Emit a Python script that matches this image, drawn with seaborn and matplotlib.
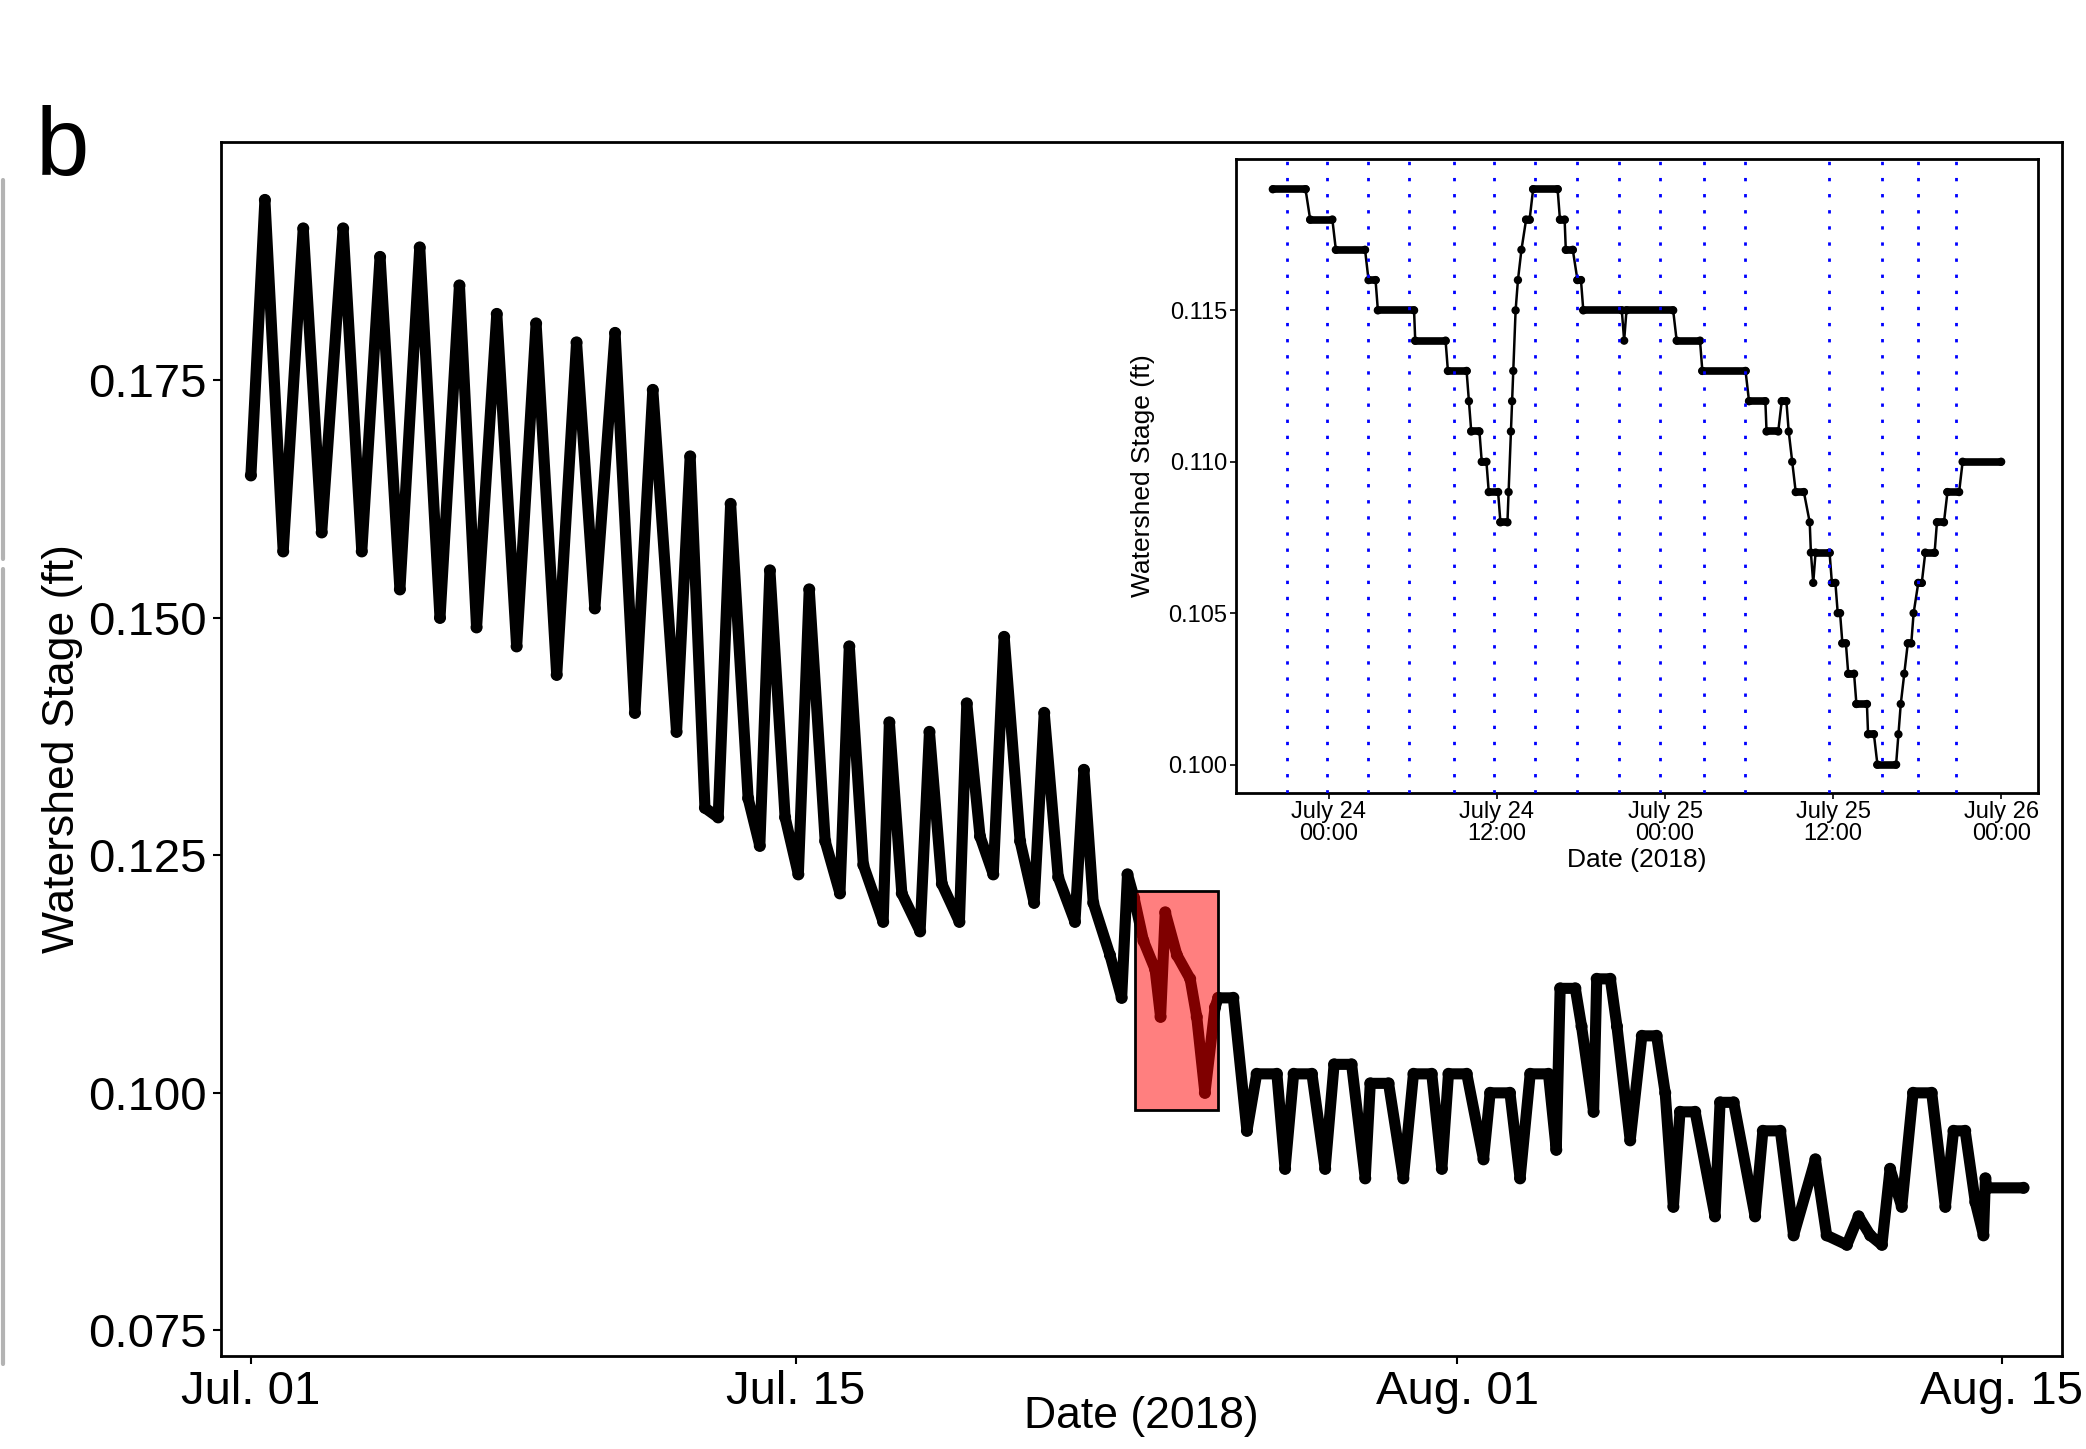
import numpy as np
import pandas as pd
import matplotlib
matplotlib.use("Agg")
import matplotlib.pyplot as plt
import matplotlib.dates as mdates
from matplotlib.patches import Rectangle
from matplotlib.lines import Line2D
import seaborn as sns

# main series: days since 2018-07-01 00:00 and stage (ft)
main_day = [0.00, 0.36, 0.83, 1.345, 1.82, 2.37, 2.85, 3.32, 3.83, 4.34, 4.86, 5.36, 5.80, 6.32,
            6.83, 7.33, 7.86, 8.37, 8.84, 9.36, 9.87, 10.33, 10.94, 11.29, 11.67, 12.01, 12.33,
            12.78, 13.08, 13.34, 13.73, 14.07, 14.35, 14.76, 15.14, 15.38, 15.74, 16.25, 16.41,
            16.73, 17.20, 17.44, 17.76, 18.21, 18.40, 18.74, 19.08, 19.36, 19.77, 20.13, 20.39,
            20.75, 21.18, 21.41, 21.65, 22.08, 22.38, 22.53, 22.70, 22.94,
            23.24, 23.38, 23.50, 23.80, 24.14, 24.31, 24.52, 24.78, 24.86, 25.25, 25.60, 25.85,
            26.37, 26.58, 26.80, 27.27, 27.61, 27.84, 28.29, 28.64, 28.77, 29.24, 29.62, 29.88,
            30.35, 30.61, 30.78, 31.25, 31.68, 31.85, 32.36, 32.62, 32.88, 33.35, 33.55, 33.65,
            34.04, 34.20, 34.51, 34.59, 34.94, 35.11, 35.45, 35.75, 36.13, 36.35, 36.56, 36.73,
            37.12, 37.63, 37.76, 38.11, 38.66, 38.86, 39.31, 39.65, 40.21, 40.50, 41.02, 41.32,
            41.62, 41.92, 42.13, 42.43, 42.72, 43.20, 43.55, 43.76, 44.06, 44.32, 44.53, 44.58,
            44.62, 45.56]
main_stage = [0.165, 0.194, 0.157, 0.191, 0.159, 0.191, 0.157, 0.188, 0.153, 0.189, 0.150, 0.185,
              0.149, 0.182, 0.147, 0.181, 0.144, 0.179, 0.151, 0.180, 0.140, 0.174, 0.138, 0.167,
              0.130, 0.129, 0.162, 0.131, 0.126, 0.155, 0.129, 0.123, 0.153, 0.1265, 0.121, 0.147,
              0.124, 0.118, 0.139, 0.121, 0.117, 0.138, 0.122, 0.118, 0.141, 0.127, 0.123, 0.148,
              0.1265, 0.120, 0.140, 0.1227, 0.118, 0.134, 0.120, 0.1145, 0.110, 0.123, 0.1205,
              0.116, 0.113, 0.108, 0.119, 0.1145, 0.112, 0.108, 0.100, 0.109, 0.110,
              0.110, 0.096, 0.102, 0.102, 0.092, 0.102, 0.102, 0.092, 0.103, 0.103, 0.091, 0.101,
              0.101, 0.091, 0.102, 0.102, 0.092, 0.102, 0.102, 0.093, 0.100, 0.100, 0.091, 0.102,
              0.102, 0.094, 0.111, 0.111, 0.107, 0.098, 0.112, 0.112, 0.107, 0.095, 0.106, 0.106,
              0.100, 0.088, 0.098, 0.098, 0.087, 0.099, 0.099, 0.087, 0.096, 0.096, 0.085, 0.093,
              0.085, 0.084, 0.087, 0.085, 0.084, 0.092, 0.088, 0.100, 0.100, 0.088, 0.096, 0.096,
              0.0885, 0.085, 0.091, 0.090, 0.090]

# inset: constant-stage runs (start, end, level)
inset_start = ["07-23 20:00", "07-23 22:40", "07-24 00:30", "07-24 02:50", "07-24 03:30",
               "07-24 06:10", "07-24 08:30", "07-24 10:00", "07-24 10:10", "07-24 10:55",
               "07-24 11:25", "07-24 12:15", "07-24 12:50", "07-24 13:00", "07-24 13:05",
               "07-24 13:10", "07-24 13:20", "07-24 13:30", "07-24 13:45", "07-24 14:05",
               "07-24 14:35", "07-24 16:30", "07-24 16:55", "07-24 17:45", "07-24 18:10",
               "07-24 21:05", "07-24 21:15", "07-25 00:50", "07-25 02:40", "07-25 06:00",
               "07-25 07:15", "07-25 08:20", "07-25 08:50", "07-25 09:05", "07-25 09:20",
               "07-25 10:20", "07-25 10:25", "07-25 10:35", "07-25 10:45", "07-25 11:55",
               "07-25 12:20", "07-25 12:40", "07-25 13:05", "07-25 13:40", "07-25 14:30",
               "07-25 15:10", "07-25 16:40", "07-25 16:50", "07-25 17:05", "07-25 17:20",
               "07-25 17:45", "07-25 18:05", "07-25 18:35", "07-25 19:25", "07-25 20:10",
               "07-25 21:15"]
inset_end = ["07-23 22:20", "07-24 00:15", "07-24 02:35", "07-24 03:20", "07-24 06:05",
             "07-24 08:20", "07-24 09:50", "07-24 10:00", "07-24 10:45", "07-24 11:15",
             "07-24 12:05", "07-24 12:45", "07-24 12:50", "07-24 13:00", "07-24 13:05",
             "07-24 13:10", "07-24 13:20", "07-24 13:30", "07-24 13:45", "07-24 14:20",
             "07-24 16:20", "07-24 16:50", "07-24 17:25", "07-24 18:00", "07-24 20:55",
             "07-24 21:05", "07-25 00:35", "07-25 02:30", "07-25 05:45", "07-25 07:10",
             "07-25 08:05", "07-25 08:40", "07-25 08:50", "07-25 09:05", "07-25 09:55",
             "07-25 10:20", "07-25 10:25", "07-25 10:35", "07-25 11:45", "07-25 12:10",
             "07-25 12:30", "07-25 12:55", "07-25 13:30", "07-25 14:25", "07-25 14:55",
             "07-25 16:30", "07-25 16:40", "07-25 16:50", "07-25 17:05", "07-25 17:35",
             "07-25 17:45", "07-25 18:20", "07-25 19:15", "07-25 19:55", "07-25 21:00",
             "07-26 00:00"]
inset_level = [0.119, 0.118, 0.117, 0.116, 0.115, 0.114, 0.113, 0.112, 0.111, 0.110,
               0.109, 0.108, 0.109, 0.111, 0.112, 0.113, 0.115, 0.116, 0.117, 0.118,
               0.119, 0.118, 0.117, 0.116, 0.115, 0.114, 0.115, 0.114, 0.113, 0.112,
               0.111, 0.112, 0.111, 0.110, 0.109, 0.108, 0.107, 0.106, 0.107, 0.106,
               0.105, 0.104, 0.103, 0.102, 0.101, 0.100, 0.101, 0.102, 0.103, 0.104,
               0.105, 0.106, 0.107, 0.108, 0.109, 0.110]

# blue dotted marker times in the inset
event_times = ["07-23 21:00", "07-23 23:50", "07-24 02:47", "07-24 05:45", "07-24 08:57",
               "07-24 11:47", "07-24 14:45", "07-24 17:43", "07-24 20:45", "07-24 23:40",
               "07-25 02:45", "07-25 05:42", "07-25 11:41", "07-25 15:30", "07-25 18:02",
               "07-25 20:45"]

# highlighted window on the main panel
box_time = ["07-23 17:20", "07-25 20:50"]
box_stage = [0.0982, 0.1212]


def to_time(labels):
    return pd.to_datetime(["2018-" + s for s in labels])


main_df = pd.DataFrame({
    "time": pd.Timestamp("2018-07-01") + pd.to_timedelta(main_day, unit="D"),
    "stage": main_stage,
})

t0 = to_time(inset_start)
t1 = to_time(inset_end)
rows = []
for a, b, v in zip(t0, t1, inset_level):
    rows.append((a, v))
    if b != a:
        rows.append((b, v))
ins_df = pd.DataFrame(rows, columns=["time", "stage"])

sns.set_style("ticks", {"text.color": "black", "axes.labelcolor": "black",
                        "xtick.color": "black", "ytick.color": "black",
                        "axes.edgecolor": "black"})
plt.rcParams["font.family"] = ["Liberation Sans", "DejaVu Sans"]

fig = plt.figure(figsize=(20.86, 14.49), dpi=100)
ax = fig.add_axes([0.1059, 0.0642, 0.8826, 0.8378])

sns.lineplot(data=main_df, x="time", y="stage", ax=ax, color="black", lw=8,
             sort=False, estimator=None, solid_joinstyle="round", solid_capstyle="round")
sns.scatterplot(data=main_df, x="time", y="stage", ax=ax, color="black", s=75,
                edgecolor="none", zorder=3)

bx = mdates.date2num(to_time(box_time))
ax.add_patch(Rectangle((bx[0], box_stage[0]), bx[1] - bx[0], box_stage[1] - box_stage[0],
                       facecolor=(1, 0, 0, 0.5), edgecolor="black", lw=2, zorder=5))

ax.set_xlim(pd.Timestamp("2018-06-30 05:30"), pd.Timestamp("2018-08-16 13:10"))
ax.set_ylim(0.0723, 0.2001)
ax.set_xticks(pd.to_datetime(["2018-07-01", "2018-07-15", "2018-08-01", "2018-08-15"]))
ax.xaxis.set_major_formatter(mdates.DateFormatter("%b. %d"))
ax.set_yticks([0.075, 0.100, 0.125, 0.150, 0.175])
ax.yaxis.set_major_formatter(plt.FormatStrFormatter("%.3f"))
ax.tick_params(length=6, width=1.5, labelsize=34, pad=4, color="black")
for sp in ax.spines.values():
    sp.set_linewidth(2)
ax.set_xlabel("Date (2018)", fontsize=32, va="top")
ax.xaxis.set_label_coords(0.5, -0.033)
ax.set_ylabel("Watershed Stage (ft)", fontsize=32)
ax.yaxis.set_label_coords(-0.075, 0.5)

# inset
axin = fig.add_axes([0.5925, 0.4527, 0.3845, 0.4376], zorder=10)
axin.set_facecolor("white")
sns.lineplot(data=ins_df, x="time", y="stage", ax=axin, color="black", lw=1.8,
             sort=False, estimator=None)
axin.hlines(inset_level, mdates.date2num(t0), mdates.date2num(t1), colors="black",
            lw=5.5, capstyle="round", zorder=3)
sns.scatterplot(data=ins_df, x="time", y="stage", ax=axin, color="black", s=36,
                edgecolor="none", zorder=3)
for t in to_time(event_times):
    axin.axvline(t, color="blue", lw=2, linestyle=(0, (1.2, 4.6)), zorder=4)

axin.set_xlim(pd.Timestamp("2018-07-23 17:22"), pd.Timestamp("2018-07-26 02:38"))
axin.set_ylim(0.09906, 0.1200)
axin.set_xticks(pd.to_datetime(["2018-07-24 00:00", "2018-07-24 12:00", "2018-07-25 00:00",
                                "2018-07-25 12:00", "2018-07-26 00:00"]))
axin.xaxis.set_major_formatter(mdates.DateFormatter("%B %d\n%H:%M"))
axin.set_yticks([0.100, 0.105, 0.110, 0.115])
axin.yaxis.set_major_formatter(plt.FormatStrFormatter("%.3f"))
axin.tick_params(length=4, width=1.2, labelsize=17, pad=2, color="black")
for lab in axin.get_xticklabels():
    lab.set_linespacing(0.95)
for sp in axin.spines.values():
    sp.set_linewidth(2)
axin.set_xlabel("Date (2018)", fontsize=19, va="top")
axin.xaxis.set_label_coords(0.5, -0.087)
axin.set_ylabel("Watershed Stage (ft)", fontsize=19)
axin.yaxis.set_label_coords(-0.101, 0.5)

fig.text(0.0173, 0.9275, "b", fontsize=69, va="top", ha="left")
fig.add_artist(Line2D([0.0012, 0.0012], [1 - 180 / 1449, 1 - 559 / 1449],
                      transform=fig.transFigure, color="#b3b3b3", lw=3))
fig.add_artist(Line2D([0.0012, 0.0012], [1 - 569 / 1449, 1 - 1364 / 1449],
                      transform=fig.transFigure, color="#b3b3b3", lw=3))

fig.savefig("out.png", dpi=100)
